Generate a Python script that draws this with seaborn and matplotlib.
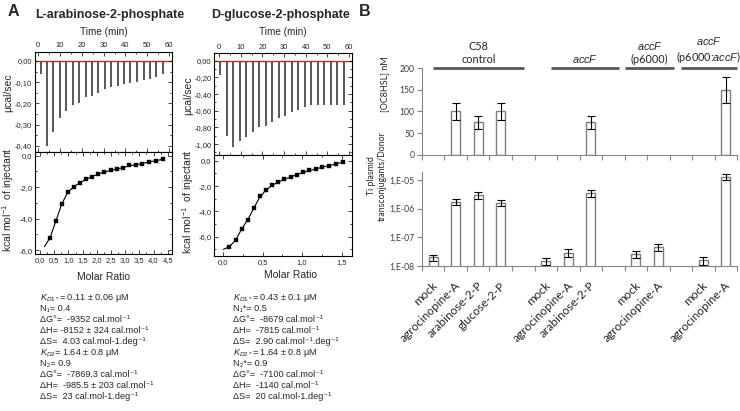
import numpy as np
import pandas as pd
import matplotlib
matplotlib.use("Agg")
import matplotlib.pyplot as plt
import matplotlib.transforms as mtransforms
import seaborn as sns
from matplotlib.ticker import FuncFormatter, FixedLocator, AutoMinorLocator, NullLocator

# ---------------- data : panel A (ITC) ----------------
ara_inj_time = [1.1, 3.9, 6.9, 10.0, 12.7, 15.8, 18.6, 21.7, 24.6, 27.6,
                30.5, 33.6, 36.4, 39.5, 42.3, 45.4, 48.3, 51.4, 54.2, 57.1]
ara_peak = [-0.063, -0.40, -0.336, -0.267, -0.236, -0.208, -0.197, -0.168, -0.164, -0.149,
            -0.134, -0.124, -0.118, -0.110, -0.102, -0.097, -0.090, -0.083, -0.074, -0.063]
glc_inj_time = [0.5, 3.5, 6.5, 9.5, 12.5, 15.6, 18.5, 21.6, 24.5, 27.6,
                30.5, 33.6, 36.6, 39.5, 42.6, 45.5, 48.6, 51.5, 54.6, 57.5]
glc_peak = [-0.17, -0.90, -1.04, -0.96, -0.91, -0.86, -0.80, -0.78, -0.73, -0.69,
            -0.66, -0.62, -0.59, -0.56, -0.53, -0.53, -0.53, -0.53, -0.53, -0.53]

ara_ratio = [0.35, 0.56, 0.76, 0.97, 1.19, 1.40, 1.61, 1.83, 2.04, 2.26,
             2.49, 2.71, 2.92, 3.15, 3.38, 3.60, 3.84, 4.08, 4.33]
ara_heat = [-5.22, -4.13, -3.09, -2.33, -1.97, -1.72, -1.48, -1.34, -1.18, -1.02,
            -0.93, -0.87, -0.76, -0.61, -0.57, -0.51, -0.38, -0.32, -0.21]
ara_fit_x = [0.15, 0.35, 0.56, 0.76, 0.97, 1.19, 1.40, 1.61, 1.83, 2.04, 2.26,
             2.49, 2.71, 2.92, 3.15, 3.38, 3.60, 3.84, 4.08, 4.33]
ara_fit_y = [-5.79, -5.22, -4.13, -3.09, -2.33, -1.97, -1.72, -1.50, -1.33, -1.17, -1.04,
             -0.93, -0.85, -0.76, -0.64, -0.57, -0.50, -0.39, -0.32, -0.22]

glc_ratio = [0.076, 0.157, 0.233, 0.313, 0.389, 0.465, 0.541, 0.617, 0.697, 0.773,
             0.854, 0.930, 1.010, 1.090, 1.175, 1.255, 1.340, 1.429, 1.517]
glc_heat = [-6.79, -6.26, -5.39, -4.68, -3.71, -2.79, -2.31, -1.94, -1.66, -1.47,
            -1.29, -1.10, -0.92, -0.76, -0.66, -0.50, -0.39, -0.26, -0.08]
glc_fit_x = [0.0, 0.076, 0.157, 0.233, 0.313, 0.389, 0.465, 0.541, 0.617, 0.697, 0.773,
             0.854, 0.930, 1.010, 1.090, 1.175, 1.255, 1.340, 1.429, 1.517]
glc_fit_y = [-7.00, -6.79, -6.26, -5.39, -4.62, -3.71, -2.85, -2.31, -1.96, -1.68, -1.47,
             -1.28, -1.10, -0.93, -0.78, -0.65, -0.51, -0.39, -0.26, -0.09]

ara_params = [r"$K_{D1*}$= 0.11 ± 0.06 μM", "N₁= 0.4", "ΔG°=  -9352 cal.mol⁻¹",
              "ΔH= -8152 ± 324 cal.mol⁻¹", "ΔS=  4.03 cal.mol-1.deg⁻¹",
              r"$K_{D2}$= 1.64 ± 0.8 μM", "N₂= 0.9", "ΔG°=  -7869.3 cal.mol⁻¹",
              "ΔH=  -985.5 ± 203 cal.mol⁻¹", "ΔS=  23 cal.mol-1.deg⁻¹"]
glc_params = [r"$K_{D1*}$= 0.43 ± 0.1 μM", "N₁*= 0.5", "ΔG°=  -8679 cal.mol⁻¹",
              "ΔH=  -7815 cal.mol⁻¹", "ΔS=  2.90 cal.mol⁻¹.deg⁻¹",
              r"$K_{D2*}$= 1.64 ± 0.8 μM", "N₂*= 0.9", "ΔG°=  -7100 cal.mol⁻¹",
              "ΔH=  -1140 cal.mol⁻¹", "ΔS=  20 cal.mol-1.deg⁻¹"]

# ---------------- data : panel B ----------------
slot_labels = ["mock", "agrocinopine-A", "arabinose-2-P", "glucose-2-P", "",
               "mock", "agrocinopine-A", "arabinose-2-P", "",
               "mock", "agrocinopine-A", "",
               "mock", "agrocinopine-A"]
nan = np.nan
ohsl = [nan, 100, 75, 100, nan, nan, nan, 75, nan, nan, nan, nan, nan, 150]
ohsl_err = [nan, 20, 15, 20, nan, nan, nan, 15, nan, nan, nan, nan, nan, 30]
transfer = [2.0e-8, 1.7e-6, 2.9e-6, 1.6e-6, nan, 1.45e-8, 2.9e-8, 3.4e-6, nan,
            2.6e-8, 4.5e-8, nan, 1.6e-8, 1.3e-5]
transfer_err = [0.5e-8, 0.4e-6, 0.8e-6, 0.4e-6, nan, 0.4e-8, 0.9e-8, 0.9e-6, nan,
                0.7e-8, 1.2e-8, nan, 0.5e-8, 3.0e-6]
group_names = ["C58\ncontrol", r"$\mathit{accF}$", "$\\mathit{accF}$\n(p6000)",
               "$\\mathit{accF}$\n(p6000:$\\mathit{accF}$)"]
group_span = [(0.0, 4.05), (5.22, 8.27), (8.54, 10.7), (11.01, 13.49)]

# ---------------- style ----------------
sns.set_style("ticks")
plt.rcParams["font.family"] = ["Liberation Sans", "DejaVu Sans"]
plt.rcParams["mathtext.fontset"] = "custom"
plt.rcParams["mathtext.rm"] = "Liberation Sans"
plt.rcParams["mathtext.it"] = "Liberation Sans:italic"
plt.rcParams["mathtext.bf"] = "Liberation Sans:bold"

W, H = 740, 411
fig = plt.figure(figsize=(W / 100, H / 100), dpi=100)


def rect(x0, y0, x1, y1):
    return [x0 / W, 1 - y1 / H, (x1 - x0) / W, (y1 - y0) / H]


def ftext(x, y, s, **kw):
    fig.text(x / W, 1 - y / H, s, **kw)


def comma(dec):
    return FuncFormatter(lambda v, p: f"{v:.{dec}f}".replace(".", ","))


def itc_style(ax):
    for sp in ax.spines.values():
        sp.set_visible(True)
        sp.set_linewidth(0.8)
        sp.set_color("black")
    ax.tick_params(which="both", direction="in", top=True, bottom=True, left=True, right=True,
                   labelsize=5.5, pad=2, width=0.6)
    ax.tick_params(which="major", length=3)
    ax.tick_params(which="minor", length=1.5)
    ax.xaxis.set_minor_locator(AutoMinorLocator(2))
    ax.yaxis.set_minor_locator(AutoMinorLocator(2))


def raw_panel(rc, times, peaks, ylim, yticks, xlim):
    ax = fig.add_axes(rc)
    ax.hlines(0, xlim[0], xlim[1], color="black", lw=0.9)
    ax.vlines(times, peaks, 0, colors="#2b2b2b", lw=1.1)
    ax.hlines(0, xlim[0] + 1, xlim[1] - 1.5, color="#d62020", lw=0.7)
    ax.set_xlim(*xlim)
    ax.set_ylim(*ylim)
    itc_style(ax)
    ax.xaxis.set_major_locator(FixedLocator([0, 10, 20, 30, 40, 50, 60]))
    ax.yaxis.set_major_locator(FixedLocator(yticks))
    ax.yaxis.set_major_formatter(comma(2))
    ax.tick_params(labeltop=True, labelbottom=False)
    ax.set_xlabel("")
    ax.set_ylabel("")
    return ax


def int_panel(rc, rx, ry, fx, fy, xlim, ylim, xticks):
    ax = fig.add_axes(rc)
    sns.lineplot(x=fx, y=fy, sort=False, color="black", lw=0.8, ax=ax)
    sns.scatterplot(x=rx, y=ry, marker="s", s=10, color="black", edgecolor="black", ax=ax)
    ax.set_xlim(*xlim)
    ax.set_ylim(*ylim)
    itc_style(ax)
    ax.xaxis.set_major_locator(FixedLocator(xticks))
    ax.xaxis.set_major_formatter(comma(1))
    ax.yaxis.set_major_locator(FixedLocator([0, -2, -4, -6]))
    ax.yaxis.set_major_formatter(comma(1))
    ax.set_xlabel("")
    ax.set_ylabel("")
    return ax


# ---------------- Panel A ----------------
raw_panel(rect(35, 51.7, 172.3, 152.3), ara_inj_time, ara_peak, (-0.43, 0.044),
          [0, -0.1, -0.2, -0.3, -0.4], (-1.5, 61.5))
int_panel(rect(35, 152.3, 172.3, 254.3), ara_ratio, ara_heat, ara_fit_x, ara_fit_y,
          (-0.18, 4.66), (-6.27, 0.22), [0, 0.5, 1, 1.5, 2, 2.5, 3, 3.5, 4, 4.5])
raw_panel(rect(214.3, 53.3, 352.3, 155), glc_inj_time, glc_peak, (-1.13, 0.09),
          [0, -0.2, -0.4, -0.6, -0.8, -1.0], (-2.2, 61.5))
int_panel(rect(214.3, 155, 352.3, 256), glc_ratio, glc_heat, glc_fit_x, glc_fit_y,
          (-0.114, 1.635), (-7.52, 0.45), [0, 0.5, 1.0, 1.5])

ftext(13, 11, "A", fontsize=11.5, fontweight="bold", ha="center", va="center")
ftext(365, 11, "B", fontsize=11.5, fontweight="bold", ha="center", va="center")
ftext(110, 15, "L-arabinose-2-phosphate", fontsize=9, fontweight="bold", ha="center", va="center")
ftext(281, 15, "D-glucose-2-phosphate", fontsize=9, fontweight="bold", ha="center", va="center")
for cx in (103.5, 283):
    ftext(cx, 32, "Time (min)", fontsize=7.2, ha="center", va="center")
for cx, cy in ((103.5, 277), (290, 275)):
    ftext(cx, cy, "Molar Ratio", fontsize=7.5, ha="center", va="center")
for cx, cy in ((8, 93), (188, 96)):
    ftext(cx, cy, "μcal/sec", fontsize=7.5, rotation=90, ha="center", va="center")
for cx, cy in ((8, 200), (188, 202)):
    ftext(cx, cy, "kcal mol$^{-1}$  of injectant", fontsize=7.5, rotation=90,
          ha="center", va="center")

for i, s in enumerate(ara_params):
    ftext(40, 300 + 11 * i, s, fontsize=6.6, ha="left", va="baseline")
for i, s in enumerate(glc_params):
    ftext(233, 300 + 11 * i, s, fontsize=6.6, ha="left", va="baseline")

# ---------------- Panel B ----------------
BF = ["Lato", "DejaVu Sans"]
GRAY = "#868686"
TXT = "#404040"
nslot = len(slot_labels)
slots = list(range(nslot))
df_top = pd.DataFrame({"slot": slots, "val": ohsl})
df_bot = pd.DataFrame({"slot": slots, "val": transfer})


def b_style(ax):
    sns.despine(ax=ax)
    for sp in ("left", "bottom"):
        ax.spines[sp].set_color(GRAY)
        ax.spines[sp].set_linewidth(0.8)
    ax.set_xlim(-0.5, nslot - 0.5)
    ax.set_xticks(np.arange(-0.5, nslot, 1.0))
    ax.set_xticklabels([])
    ax.tick_params(axis="both", which="major", direction="out", length=3.5, width=0.8,
                   color=GRAY, labelsize=6.2, labelcolor=TXT, pad=2)
    for lab in ax.get_yticklabels():
        lab.set_family(BF)
    ax.set_xlabel("")
    ax.set_ylabel("")


axt = fig.add_axes(rect(422, 68, 737, 155))
sns.barplot(data=df_top, x="slot", y="val", order=slots, width=0.42, color="white",
            edgecolor="#7f7f7f", linewidth=1.0, errorbar=None, ax=axt)
axt.errorbar(slots, ohsl, yerr=ohsl_err, fmt="none", ecolor="black", elinewidth=0.8,
             capsize=3, capthick=0.8)
axt.set_ylim(0, 200)
axt.set_yticks([0, 50, 100, 150, 200])
axt.set_yticklabels(["0", "50", "100", "150", "200"])
b_style(axt)

blend = mtransforms.blended_transform_factory(axt.transData, axt.transAxes)
for name, (a, b) in zip(group_names, group_span):
    axt.plot([a, b], [1.0, 1.0], transform=blend, color="#595959", lw=2, clip_on=False,
             solid_capstyle="butt")
    axt.text((a + b) / 2, 1.04, name, transform=blend, ha="center", va="bottom",
             fontsize=7.8, family=BF, color="#262626", linespacing=1.15)

axb = fig.add_axes(rect(422, 172, 737, 266))
axb.set_yscale("log")
sns.barplot(data=df_bot, x="slot", y="val", order=slots, width=0.42, color="white",
            edgecolor="#7f7f7f", linewidth=1.0, errorbar=None, ax=axb)
axb.errorbar(slots, transfer, yerr=transfer_err, fmt="none", ecolor="black", elinewidth=0.8,
             capsize=3, capthick=0.8)
axb.set_ylim(1e-8, 1.9e-5)
axb.yaxis.set_major_locator(FixedLocator([1e-8, 1e-7, 1e-6, 1e-5]))
axb.yaxis.set_minor_locator(NullLocator())
axb.set_yticklabels(["1,E-08", "1,E-07", "1,E-06", "1,E-05"])
b_style(axb)

lab_blend = mtransforms.blended_transform_factory(axb.transData, axb.transAxes)
for s, lab in zip(slots, slot_labels):
    if not lab:
        continue
    tr = lab_blend + mtransforms.ScaledTranslation(2.5 / 100, -18 / 100, fig.dpi_scale_trans)
    axb.text(s, 0, lab, transform=tr, rotation=45, rotation_mode="anchor", ha="right",
             va="center", fontsize=8.6, family=BF, color="#262626")

ftext(385, 84, "[OC8HSL] nM", fontsize=6.5, family=BF, rotation=90, ha="center",
      va="center", color="#262626")
ftext(377, 176, "Ti plasmid\ntransconjugants/Donor", fontsize=6.3, family=BF, rotation=90,
      ha="center", va="center", color="#262626", multialignment="center")

fig.savefig("out.png", dpi=100)
